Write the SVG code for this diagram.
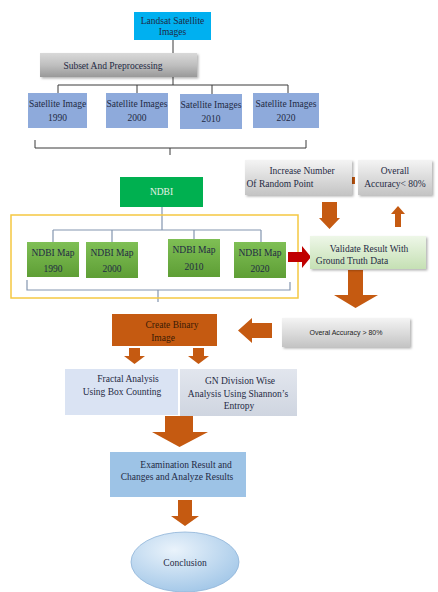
<svg xmlns="http://www.w3.org/2000/svg" width="438" height="592" viewBox="0 0 438 592">
<defs>
<linearGradient id="gGray" x1="0" y1="0" x2="0" y2="1"><stop offset="0" stop-color="#f4f4f4"/><stop offset="1" stop-color="#c4c4c4"/></linearGradient>
<linearGradient id="gSub" x1="0" y1="0" x2="0" y2="1"><stop offset="0" stop-color="#d9d9d9"/><stop offset="0.5" stop-color="#bfbfbf"/><stop offset="1" stop-color="#999"/></linearGradient>
<linearGradient id="gGreen" x1="0" y1="0" x2="0" y2="1"><stop offset="0" stop-color="#7fbf55"/><stop offset="1" stop-color="#5e9e35"/></linearGradient>
<linearGradient id="gVal" x1="0" y1="0" x2="0" y2="1"><stop offset="0" stop-color="#eef7e8"/><stop offset="1" stop-color="#c5e0b4"/></linearGradient>
<linearGradient id="gGN" x1="0" y1="0" x2="0" y2="1"><stop offset="0" stop-color="#e2e6ee"/><stop offset="1" stop-color="#cfd5e0"/></linearGradient>
<radialGradient id="gEll" cx="0.4" cy="0.3" r="0.8"><stop offset="0" stop-color="#eaf3fb"/><stop offset="1" stop-color="#9cc3e6"/></radialGradient>
<filter id="sh" x="-10%" y="-10%" width="125%" height="135%"><feDropShadow dx="1.5" dy="1.5" stdDeviation="1" flood-color="#000" flood-opacity="0.3"/></filter>
</defs>
<style>
.t{font-family:"Liberation Serif","Times New Roman",serif;font-size:9.5px;fill:#1f2a44;text-anchor:middle}
.s{font-family:"Liberation Sans",Arial,sans-serif;font-size:7px;fill:#222;text-anchor:middle}
.ln{fill:none;stroke:#3a3a3a;stroke-width:1}
.lb{fill:none;stroke:#8496b0;stroke-width:1.2}
.sat{fill:#8eaadb}
.map{fill:url(#gGreen)}
.gb{fill:url(#gGray);filter:url(#sh)}
.or{fill:#c55a11}
</style>
<g id="connectors">
<path class="ln" d="M173 40V53M173 77V85M58 85H288M58 85V93M137 85V93M212 85V94M288 85V93"/>
<path class="ln" d="M35 140V148H306V140M170 148V155" stroke="#555"/>
<path class="lb" d="M162 207V230M53 230H261M53 230V242M112 230V242M194 230V239M261 230V242"/>
<path class="lb" d="M27 280V290H290V282M158 290V302" stroke="#7aa0d8"/>
<rect x="11" y="215" width="287" height="83" fill="none" stroke="#f5c842" stroke-width="1.5"/>
<path id="redArrow" d="M288 252H302V246L311 257L302 268V262H288Z" fill="#c00000"/>
<path d="M322 202H337V218H340L329.5 229L319 218H322Z" class="or"/>
<path d="M395 227V214H391L398 206L405 214H401V227Z" class="or"/>
<rect x="349" y="177" width="6" height="7" class="or"/>
<path d="M348 270H363V295H378L355.5 308L334 295H348Z" class="or"/>
<path d="M272 323H252V318L238 330.5L252 343V338H272Z" class="or"/>
<path d="M129 348H140V356H145L134.5 364L124 356H129Z" class="or"/>
<path d="M193 348H204V356H209L198.5 364L188 356H193Z" class="or"/>
<path d="M165 416H193V432H208L179.5 447L152 432H165Z" class="or"/>
<path d="M178 500H192V516H199L185 526L171 516H178Z" class="or"/>
</g>
<g id="landsat"><rect x="134" y="12" width="77" height="28" fill="#00b0f0"/><text class="t" x="172.5" y="24">Landsat Satellite</text><text class="t" x="172.5" y="35">Images</text></g>
<g id="subset"><rect x="40" y="53" width="157" height="24" fill="url(#gSub)" filter="url(#sh)"/><text class="t" x="113" y="69">Subset And Preprocessing</text></g>
<g id="sat1990"><rect class="sat" x="28" y="93" width="59" height="35"/><text class="t" x="57.5" y="107">Satellite Image</text><text class="t" x="57.5" y="121">1990</text></g>
<g id="sat2000"><rect class="sat" x="106" y="93" width="62" height="35"/><text class="t" x="137" y="107">Satellite Images</text><text class="t" x="137" y="121">2000</text></g>
<g id="sat2010"><rect class="sat" x="180" y="94" width="62" height="35"/><text class="t" x="211" y="108">Satellite Images</text><text class="t" x="211" y="122">2010</text></g>
<g id="sat2020"><rect class="sat" x="253" y="93" width="66" height="35"/><text class="t" x="286" y="107">Satellite Images</text><text class="t" x="286" y="121">2020</text></g>
<g id="ndbi"><rect x="120" y="177" width="83" height="30" fill="#00b050"/><text class="t" x="161.5" y="195" fill="#eef" style="fill:#e8f0e8">NDBI</text></g>
<g id="increase"><rect class="gb" x="245" y="160" width="107" height="35"/><text class="t" x="302" y="174">Increase  Number</text><text class="t" x="280" y="187">Of Random Point</text></g>
<g id="acclow"><rect class="gb" x="358" y="160" width="74" height="35"/><text class="t" x="395" y="174">Overall</text><text class="t" x="395" y="187">Accuracy&lt; 80%</text></g>
<g id="map1990"><rect class="map" x="27" y="242" width="52" height="35"/><text class="t" x="53" y="256">NDBI Map</text><text class="t" x="53" y="272">1990</text></g>
<g id="map2000"><rect class="map" x="86" y="242" width="52" height="36"/><text class="t" x="112" y="256">NDBI Map</text><text class="t" x="112" y="272">2000</text></g>
<g id="map2010"><rect class="map" x="168" y="239" width="52" height="38"/><text class="t" x="194" y="253">NDBI Map</text><text class="t" x="194" y="270">2010</text></g>
<g id="map2020"><rect class="map" x="234" y="242" width="52" height="36"/><text class="t" x="260" y="256">NDBI Map</text><text class="t" x="260" y="272">2020</text></g>
<g id="validate"><rect x="310" y="236" width="116" height="33" fill="url(#gVal)" filter="url(#sh)"/><text class="t" x="369" y="252">Validate  Result  With</text><text class="t" x="352" y="264">Ground Truth  Data</text></g>
<g id="acchigh"><rect class="gb" x="282" y="318" width="128" height="29"/><text class="s" x="346" y="335">Overal Accuracy &gt; 80%</text></g>
<g id="binary"><rect x="112" y="314" width="105" height="32" fill="#c55a11"/><text class="t" x="172" y="328" style="fill:#3a1a05">Create Binary</text><text class="t" x="163" y="341" style="fill:#3a1a05">Image</text></g>
<g id="fractal"><rect x="65" y="369" width="113" height="46" fill="#dae3f3"/><text class="t" x="128" y="382">Fractal Analysis</text><text class="t" x="122" y="395">Using Box Counting</text></g>
<g id="gn"><rect x="180" y="369" width="117" height="47" fill="url(#gGN)"/><text class="t" x="240" y="384">GN Division Wise</text><text class="t" x="238" y="397">Analysis Using Shannon’s</text><text class="t" x="239" y="409">Entropy</text></g>
<g id="exam"><rect x="110" y="452" width="136" height="45" fill="#9dc3e6"/><text class="t" x="186" y="468">Examination Result and</text><text class="t" x="177" y="480">Changes and Analyze Results</text></g>
<g id="conclusion"><ellipse cx="185" cy="562" rx="54" ry="30" fill="url(#gEll)" stroke="#8fb4d8" stroke-width="0.8"/><text class="t" x="185" y="566">Conclusion</text></g>
</svg>
